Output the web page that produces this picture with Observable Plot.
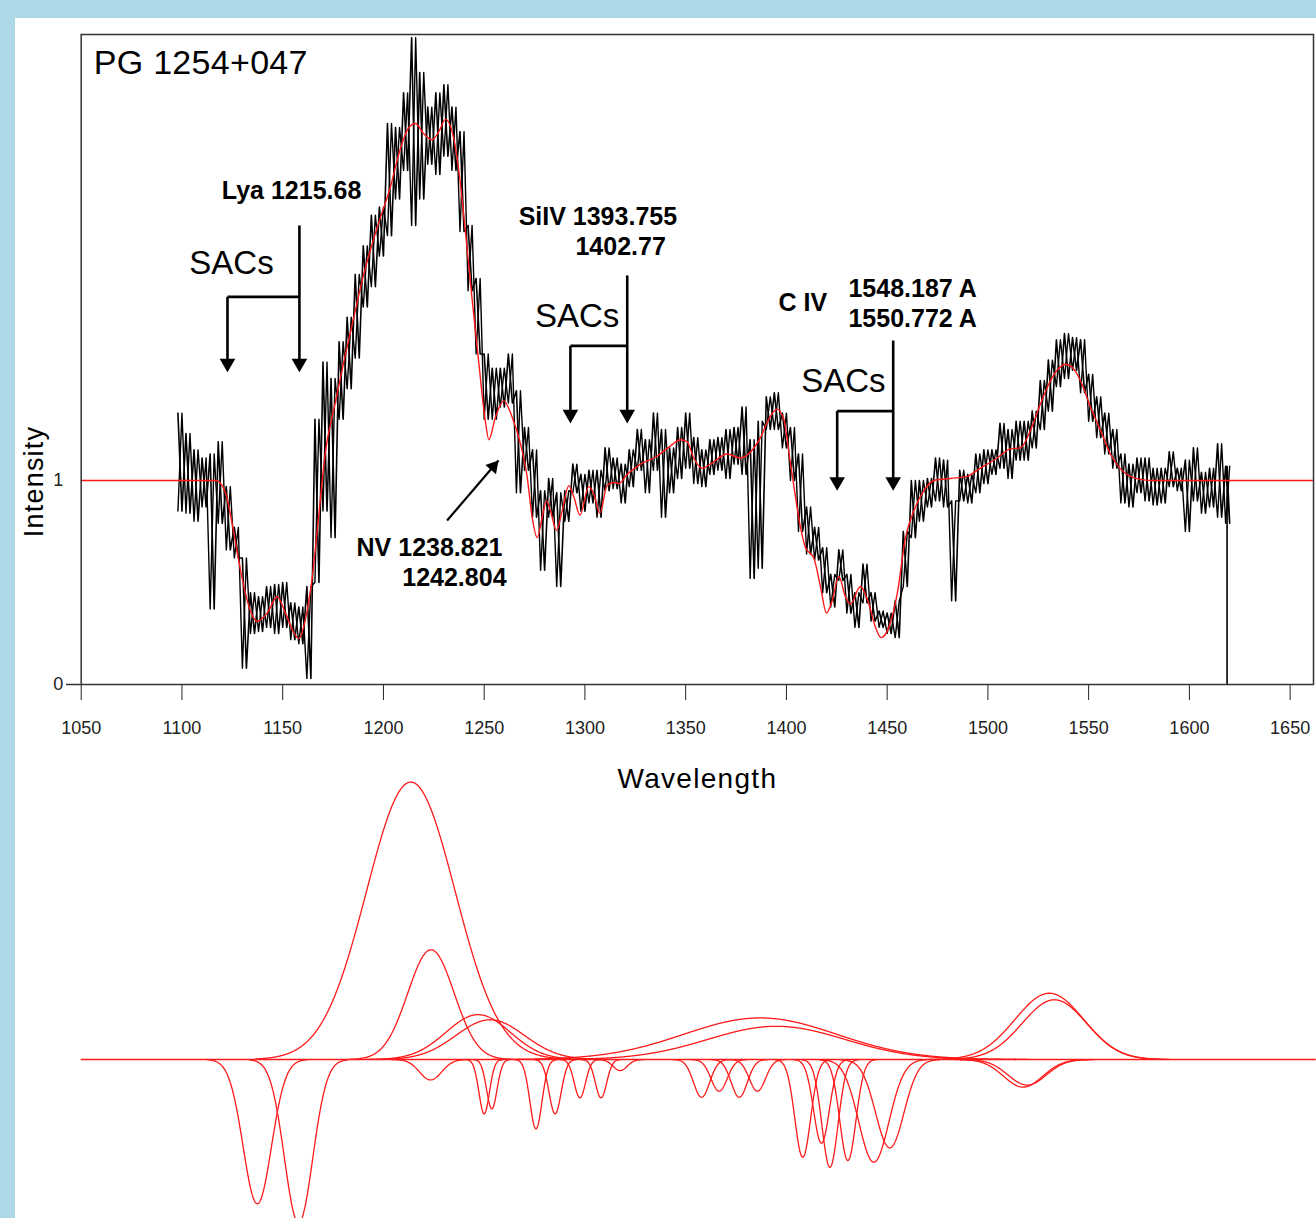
<!DOCTYPE html>
<html><head><meta charset="utf-8">
<script src="https://cdn.jsdelivr.net/npm/d3@7"></script>
<script src="https://cdn.jsdelivr.net/npm/@observablehq/plot@0.6"></script>
<style>
html,body{margin:0;padding:0;background:#add8e6;}
#page{position:relative;width:1316px;height:1218px;overflow:hidden;}
#panel{position:absolute;left:15px;top:18px;width:1301px;height:1200px;background:#fff;}
#top,#bottom{position:absolute;left:0;}
#top{top:0;} #bottom{top:770px;}
</style></head>
<body><div id="page"><div id="panel"></div><div id="top"></div><div id="bottom"></div></div>
<script>
// ---------- DATA ----------
const xTicks = [1050,1100,1150,1200,1250,1300,1350,1400,1450,1500,1550,1600,1650];
const yTicks = [0, 1];

// Observed spectrum: 4 Å bins starting at 1098 Å, upper / lower envelope of the noise
const specStart = 1098, specStep = 4;
const specHi = [
 1.33,1.23,1.15,1.11,1.13,1.19,0.97,0.77,0.62,0.45,
 0.43,0.48,0.49,0.50,0.40,0.38,0.48,1.30,1.58,1.50,
 1.68,1.80,2.01,2.15,2.30,2.34,2.75,2.73,2.90,3.17,
 3.00,2.83,2.90,2.94,2.83,2.71,2.25,1.99,1.62,1.55,
 1.55,1.62,1.44,1.26,1.15,0.95,1.01,0.94,0.95,1.08,
 1.03,1.05,1.05,1.16,1.11,1.08,1.15,1.25,1.20,1.33,
 1.25,1.16,1.26,1.33,1.21,1.15,1.20,1.21,1.25,1.26,
 1.36,1.20,1.29,1.41,1.43,1.33,1.26,1.13,0.87,0.77,
 0.67,0.54,0.66,0.54,0.45,0.59,0.45,0.36,0.35,0.41,
 0.75,1.00,1.00,1.01,1.11,1.10,0.90,1.05,1.03,1.13,
 1.15,1.15,1.28,1.25,1.29,1.29,1.34,1.49,1.59,1.69,
 1.72,1.70,1.69,1.52,1.41,1.33,1.25,1.13,1.08,1.11,
 1.11,1.06,1.06,1.14,1.06,1.10,1.16,1.04,1.06,1.18,
 1.07];
const specLo = [
 0.85,0.84,0.80,0.87,0.37,0.79,0.66,0.62,0.08,0.25,
 0.26,0.28,0.25,0.28,0.22,0.20,0.03,0.50,0.85,0.72,
 1.30,1.45,1.60,1.85,1.95,2.10,2.20,2.38,2.52,2.25,
 2.38,2.55,2.50,2.59,2.52,2.22,1.93,1.62,1.30,1.30,
 1.36,1.38,0.94,1.05,0.82,0.56,0.82,0.48,0.80,0.94,
 0.85,0.89,0.82,0.95,0.96,0.89,0.97,1.05,0.94,1.05,
 0.82,0.94,1.01,1.06,0.985,0.97,1.03,1.05,1.01,1.08,
 1.03,0.52,0.57,1.25,1.25,1.16,1.00,0.75,0.64,0.61,
 0.45,0.38,0.51,0.35,0.28,0.40,0.31,0.28,0.25,0.23,
 0.48,0.72,0.80,0.87,0.90,0.87,0.41,0.90,0.89,0.94,
 0.985,1.03,1.06,1.01,1.10,1.10,1.16,1.25,1.34,1.46,
 1.50,1.54,1.43,1.29,1.21,1.13,1.06,0.89,0.87,0.94,
 0.90,0.88,0.89,0.97,0.95,0.75,0.90,0.84,0.87,0.82,
 0.79];
const specEndLam = [1618.7, 1618.7];
const specEndInt = [1.07, 0];

// Fitted model (red)
const fitLam = [1050,1117,1121.6,1124.9,1127.4,1129.9,1134,1137.3,1142.3,1147.3,
 1151.4,1155.5,1158,1161.3,1164.6,1167.9,1171.2,1175.4,1180.3,1185.3,
 1190.2,1196.9,1203.5,1208.5,1212.6,1215.9,1220,1224.2,1227.5,1230.8,
 1234.1,1237.4,1240.7,1244,1247.3,1250.6,1252.3,1255.6,1259.7,1263.9,
 1268,1271.3,1273.8,1276.3,1278.8,1280.9,1282.9,1285.9,1288.7,1292,
 1294.5,1297.5,1301.9,1304.4,1307.4,1311,1314.3,1316.8,1321,1327.6,
 1335.9,1342.5,1347.4,1350.7,1354,1358.2,1362.3,1370.6,1377.2,1382.2,
 1387.1,1391.2,1395.4,1398.7,1401.5,1404.5,1407,1409.5,1413.6,1416.9,
 1419.9,1422.7,1426,1429.3,1431.8,1436.7,1440.9,1444.2,1447,1450.8,
 1455,1459.1,1463.2,1468.2,1473.1,1481.4,1489.7,1494.6,1504.6,1511.2,
 1516.2,1521.1,1526.1,1531.1,1535.2,1538.5,1541.8,1545.9,1550.9,1555.9,
 1560.8,1565.8,1570.7,1577.4,1582,1661.6];
const fitInt = [1,1,0.94,0.79,0.65,0.52,0.36,0.31,0.35,0.43,
 0.35,0.255,0.225,0.32,0.52,0.83,1.14,1.35,1.58,1.80,
 2.01,2.24,2.44,2.63,2.73,2.75,2.70,2.67,2.71,2.77,
 2.71,2.52,2.22,1.89,1.58,1.29,1.20,1.31,1.39,1.31,
 1.18,1.02,0.82,0.72,0.82,0.90,0.85,0.755,0.85,0.975,
 0.92,0.83,0.97,0.935,0.84,0.975,0.99,0.985,1.03,1.08,
 1.12,1.17,1.20,1.19,1.11,1.06,1.08,1.13,1.11,1.14,
 1.21,1.30,1.35,1.30,1.12,0.92,0.77,0.67,0.62,0.48,
 0.35,0.41,0.53,0.43,0.395,0.48,0.395,0.28,0.23,0.28,
 0.445,0.72,0.85,0.95,1.0,1.01,1.02,1.05,1.11,1.155,
 1.16,1.245,1.376,1.49,1.55,1.57,1.555,1.49,1.36,1.245,
 1.13,1.057,1.02,1.003,1,1];

// Gaussian components of the fit (bottom panel): centre (Å), amplitude, sigma (Å)
const compCenter = [1213.6,1223.6,1247,1253,1387,1395,1530.5,1533,
 1137.4,1157.9,1223.4,1250,1253.8,1275.7,1285.2,1297.5,1308,1317.5,
 1357.9,1366.6,1376.6,1385.6,1408.1,1417.4,1421.6,1430.5,1443.4,1451.3,1517.5,1519.5];
const compAmp = [1.36,0.538,0.22,0.195,0.204,0.163,0.325,0.293,
 -0.707,-0.80,-0.10,-0.266,-0.242,-0.34,-0.266,-0.188,-0.188,-0.054,
 -0.185,-0.155,-0.185,-0.155,-0.479,-0.41,-0.528,-0.495,-0.503,-0.433,-0.135,-0.125];
const compSigma = [22,11.5,16,17,38,34,17,16,
 7.0,7.0,5.5,2.6,2.6,3.0,3.0,2.8,2.8,3.5,
 4,4,4,4,3.9,3.9,4,4,7.5,7,9.7,9.5];

// Annotations
const titleText = ["PG 1254+047"], titleLam = [1056.2], titleInt = [2.99];
const sacsText = ["SACs","SACs","SACs"], sacsLam = [1124.6,1296.1,1428.3], sacsInt = [2.01,1.75,1.433];
const lineText = ["Lya 1215.68","SiIV 1393.755","1402.77","C IV","1548.187 A","1550.772 A","NV 1238.821","1242.804"];
const lineLam  = [1154.4,1267.1,1295.3,1396.1,1430.8,1430.8,1259.1,1261.1];
const lineInt  = [2.382,2.25,2.103,1.833,1.897,1.75,0.632,0.485];
const lineAnchor = ["middle","start","start","start","start","start","end","end"];

// Arrow segments (bracket lines) and arrow heads
const segLam1 = [1158.3,1158.3,1122.6, 1321,1321,1292.8, 1453,1453,1425.2];
const segInt1 = [2.25,1.90,1.90, 2.005,1.66,1.66, 1.686,1.34,1.34];
const segLam2 = [1158.3,1122.6,1122.6, 1321,1292.8,1292.8, 1453,1425.2,1425.2];
const segInt2 = [1.55,1.90,1.55, 1.30,1.66,1.30, 0.97,1.34,0.97];
const headLam = [1158.3,1122.6,1321,1292.8,1453,1425.2];
const headInt = [1.53,1.53,1.28,1.28,0.95,0.95];
const nvLam = [1231.6,1257.1], nvInt = [0.804,1.098];

// ---------- BUILD ----------
const FONT = "'Liberation Sans', Arial, Helvetica, sans-serif";
// two traversals of the envelope (hi->lo and lo->hi) give the dense noisy band
const specA = [], specB = [];
specHi.forEach((h, i) => {
  const l = specStart + i * specStep;
  specA.push({lam: l, v: h});
  specA.push({lam: l + specStep / 2, v: specLo[i]});
  specB.push({lam: l, v: specLo[i]});
  specB.push({lam: l + specStep / 2, v: h});
});
specEndLam.forEach((l, i) => specA.push({lam: l, v: specEndInt[i]}));
const fit = fitLam.map((l, i) => ({lam: l, v: fitInt[i]}));
const segs = segLam1.map((l, i) => ({x1: l, y1: segInt1[i], x2: segLam2[i], y2: segInt2[i]}));
const heads = headLam.map((l, i) => ({lam: l, v: headInt[i]}));
const ann = lineText.map((t, i) => ({t, lam: lineLam[i], v: lineInt[i], a: lineAnchor[i]}));

const topPlot = Plot.plot({
  width: 1316, height: 800,
  marginLeft: 80.7, marginRight: 3, marginTop: 34, marginBottom: 116,
  style: {background: "transparent", fontFamily: FONT, fontSize: "18px", color: "#222", overflow: "visible"},
  x: {domain: [1050, 1661.6], ticks: xTicks, tickSize: 16, tickPadding: 21, tickFormat: d3.format("d"), label: null},
  y: {domain: [0, 3.186], ticks: yTicks, tickSize: 0, tickPadding: 18, tickFormat: d3.format("d"), label: null},
  marks: [
    Plot.ruleY([0], {x1: 1042.7, x2: 1050, stroke: "#333", strokeWidth: 1.5, clip: false}),
    Plot.line(specB, {x: "lam", y: "v", stroke: "#000", strokeWidth: 1.4}),
    Plot.line(specA, {x: "lam", y: "v", stroke: "#000", strokeWidth: 1.6}),
    Plot.line(fit, {x: "lam", y: "v", stroke: "#ff1a1a", strokeWidth: 1.4, curve: "monotone-x"}),
    Plot.link(segs, {x1: "x1", y1: "y1", x2: "x2", y2: "y2", stroke: "#000", strokeWidth: 2.6}),
    Plot.dot(heads, {x: "lam", y: "v", symbol: "triangle", r: 5.8, rotate: 180, dy: -9, fill: "#000", stroke: "none"}),
    Plot.link([0], {x1: () => nvLam[0], y1: () => nvInt[0], x2: () => nvLam[1], y2: () => nvInt[1], stroke: "#000", strokeWidth: 2.2}),
    Plot.dot([0], {x: () => nvLam[1], y: () => nvInt[1], symbol: "triangle", r: 5.2, rotate: 40.5, dx: -5.2, dy: 6.1, fill: "#000", stroke: "none"}),
    Plot.text(titleText, {x: (d, i) => titleLam[i], y: (d, i) => titleInt[i], text: d => d, textAnchor: "start", lineAnchor: "bottom", fontSize: 34, fill: "#000"}),
    Plot.text(sacsText, {x: (d, i) => sacsLam[i], y: (d, i) => sacsInt[i], text: d => d, textAnchor: "middle", lineAnchor: "bottom", fontSize: 33, fill: "#000"}),
    Plot.text(ann.filter(d => d.a === "middle"), {x: "lam", y: "v", text: "t", textAnchor: "middle", lineAnchor: "bottom", fontSize: 25, fontWeight: "bold", fill: "#000"}),
    Plot.text(ann.filter(d => d.a === "start"), {x: "lam", y: "v", text: "t", textAnchor: "start", lineAnchor: "bottom", fontSize: 25, fontWeight: "bold", fill: "#000"}),
    Plot.text(ann.filter(d => d.a === "end"), {x: "lam", y: "v", text: "t", textAnchor: "end", lineAnchor: "bottom", fontSize: 25, fontWeight: "bold", fill: "#000"}),
    Plot.text(["Wavelength"], {frameAnchor: "bottom", textAnchor: "middle", lineAnchor: "bottom", dy: 103, fontSize: 28, fill: "#000"}),
    Plot.text(["Intensity"], {frameAnchor: "left", textAnchor: "middle", lineAnchor: "bottom", rotate: -90, dx: -37.7, dy: 122, fontSize: 27, fill: "#000"}),
    Plot.frame({stroke: "#333", strokeWidth: 1.5})
  ]
});
d3.select(topPlot).selectAll("text").each(function() {
  const t = this.textContent;
  if (t === "Wavelength") this.setAttribute("letter-spacing", "1.3px");
  if (t === "Intensity") this.setAttribute("letter-spacing", "1.2px");
  if (t === "PG 1254+047") this.setAttribute("letter-spacing", "0.3px");
});
document.getElementById("top").appendChild(topPlot);

// bottom panel: component profiles
const comps = [];
compCenter.forEach((c, i) => {
  const s = compSigma[i], a = compAmp[i];
  for (let l = c - 3.5 * s; l <= c + 3.5 * s + 1e-9; l += 0.25) {
    comps.push({id: i, lam: l, v: a * Math.exp(-((l - c) ** 2) / (2 * s * s))});
  }
});
const botPlot = Plot.plot({
  width: 1316, height: 448,
  marginLeft: 80.7, marginRight: 3, marginTop: 0, marginBottom: 0,
  style: {background: "transparent", overflow: "visible"},
  x: {domain: [1050, 1661.6], axis: null},
  y: {domain: [-0.779, 1.4167], axis: null},
  marks: [
    Plot.ruleY([0], {x1: 1050, x2: 1663, stroke: "#ff1a1a", strokeWidth: 1.4, clip: false}),
    Plot.line(comps, {x: "lam", y: "v", z: "id", stroke: "#ff1a1a", strokeWidth: 1.3, curve: "linear"})
  ]
});
document.getElementById("bottom").appendChild(botPlot);
</script>
</body></html>
